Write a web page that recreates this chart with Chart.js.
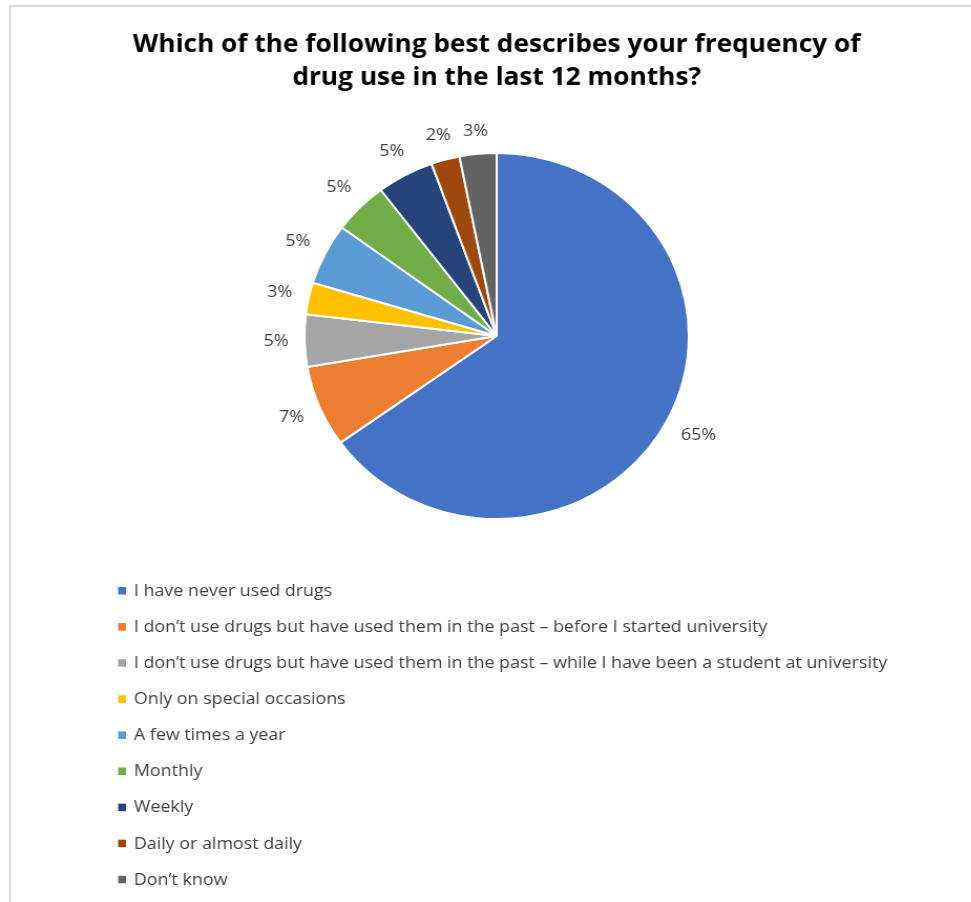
<!DOCTYPE html>
<html><head><meta charset="utf-8">
<script src="https://cdn.jsdelivr.net/npm/chart.js@4/dist/chart.umd.min.js"></script>
<style>
html,body{margin:0;padding:0;background:#fff;overflow:hidden;width:971px;height:902px}
#frame{position:absolute;left:9px;top:5px;width:970px;height:905px;border-top:2px solid #dadada;border-left:2px solid #dadada;}
#wrap{position:absolute;left:0;top:0;width:925px;height:902px;transform:scaleX(1.05);transform-origin:0 0}
</style></head><body>
<div id="frame"></div>
<div id="wrap"><canvas id="c"></canvas></div>
<script>
const categories = [
  'I have never used drugs',
  'I don\u2019t use drugs but have used them in the past \u2013 before I started university',
  'I don\u2019t use drugs but have used them in the past \u2013 while I have been a student at university',
  'Only on special occasions',
  'A few times a year',
  'Monthly',
  'Weekly',
  'Daily or almost daily',
  'Don\u2019t know'
];
const values = [65.1, 7.2, 4.6, 2.8, 5.4, 4.6, 4.8, 2.4, 3.1];
const colors = ['#4472C4','#ED7D31','#A5A5A5','#FFC000','#5B9BD5','#70AD47','#264478','#9E480E','#636363'];
const titleLines = ['Which of the following best describes your frequency of', 'drug use in the last 12 months?'];

const pctLabels = {
  id: 'pctLabels',
  afterDatasetsDraw(chart) {
    const ctx = chart.ctx;
    const meta = chart.getDatasetMeta(0);
    ctx.save();
    ctx.font = '17px "Open Sans"';
    ctx.fillStyle = '#404040';
    ctx.textAlign = 'center';
    ctx.textBaseline = 'middle';
    meta.data.forEach((arc, i) => {
      const p = arc.getProps(['x','y','startAngle','endAngle','outerRadius'], true);
      const mid = (p.startAngle + p.endAngle) / 2;
      const txt = Math.round(chart.data.datasets[0].data[i]) + '%';
      const tw = ctx.measureText(txt).width;
      const c = Math.cos(mid), s = Math.sin(mid);
      const d = p.outerRadius + 15 + Math.abs(c) * tw / 2 + Math.abs(s) * 7;
      ctx.fillText(txt, p.x + c * d, p.y + s * d);
    });
    ctx.restore();
  }
};

const listLegend = {
  id: 'listLegend',
  afterDraw(chart) {
    const ctx = chart.ctx;
    const ds = chart.data.datasets[0];
    ctx.save();
    ctx.font = '17px "Open Sans"';
    ctx.textBaseline = 'middle';
    ctx.textAlign = 'left';
    chart.data.labels.forEach((lab, i) => {
      const y = 591 + i * 36.1;
      ctx.fillStyle = ds.backgroundColor[i];
      ctx.fillRect(112.5, y - 4, 7.5, 7.5);
      ctx.fillStyle = '#404040';
      ctx.fillText(lab, 127.5, y);
    });
    ctx.restore();
  }
};

new Chart(document.getElementById('c'), {
  type: 'pie',
  data: {
    labels: categories,
    datasets: [{
      data: values,
      backgroundColor: colors,
      borderColor: '#ffffff',
      borderWidth: 2,
      hoverOffset: 0
    }]
  },
  options: {
    responsive: true,
    maintainAspectRatio: false,
    animation: false,
    radius: 183,
    layout: { padding: { top: 0, bottom: 383, left: 21, right: 0 } },
    plugins: {
      legend: { display: false },
      tooltip: { enabled: false },
      title: {
        display: true,
        text: titleLines,
        color: '#000000',
        font: { family: '"Open Sans"', size: 25, weight: 'bold', lineHeight: 1.32 },
        padding: { top: 28.5, bottom: 58.5 }
      }
    }
  },
  plugins: [pctLabels, listLegend]
});
</script>
</body></html>
